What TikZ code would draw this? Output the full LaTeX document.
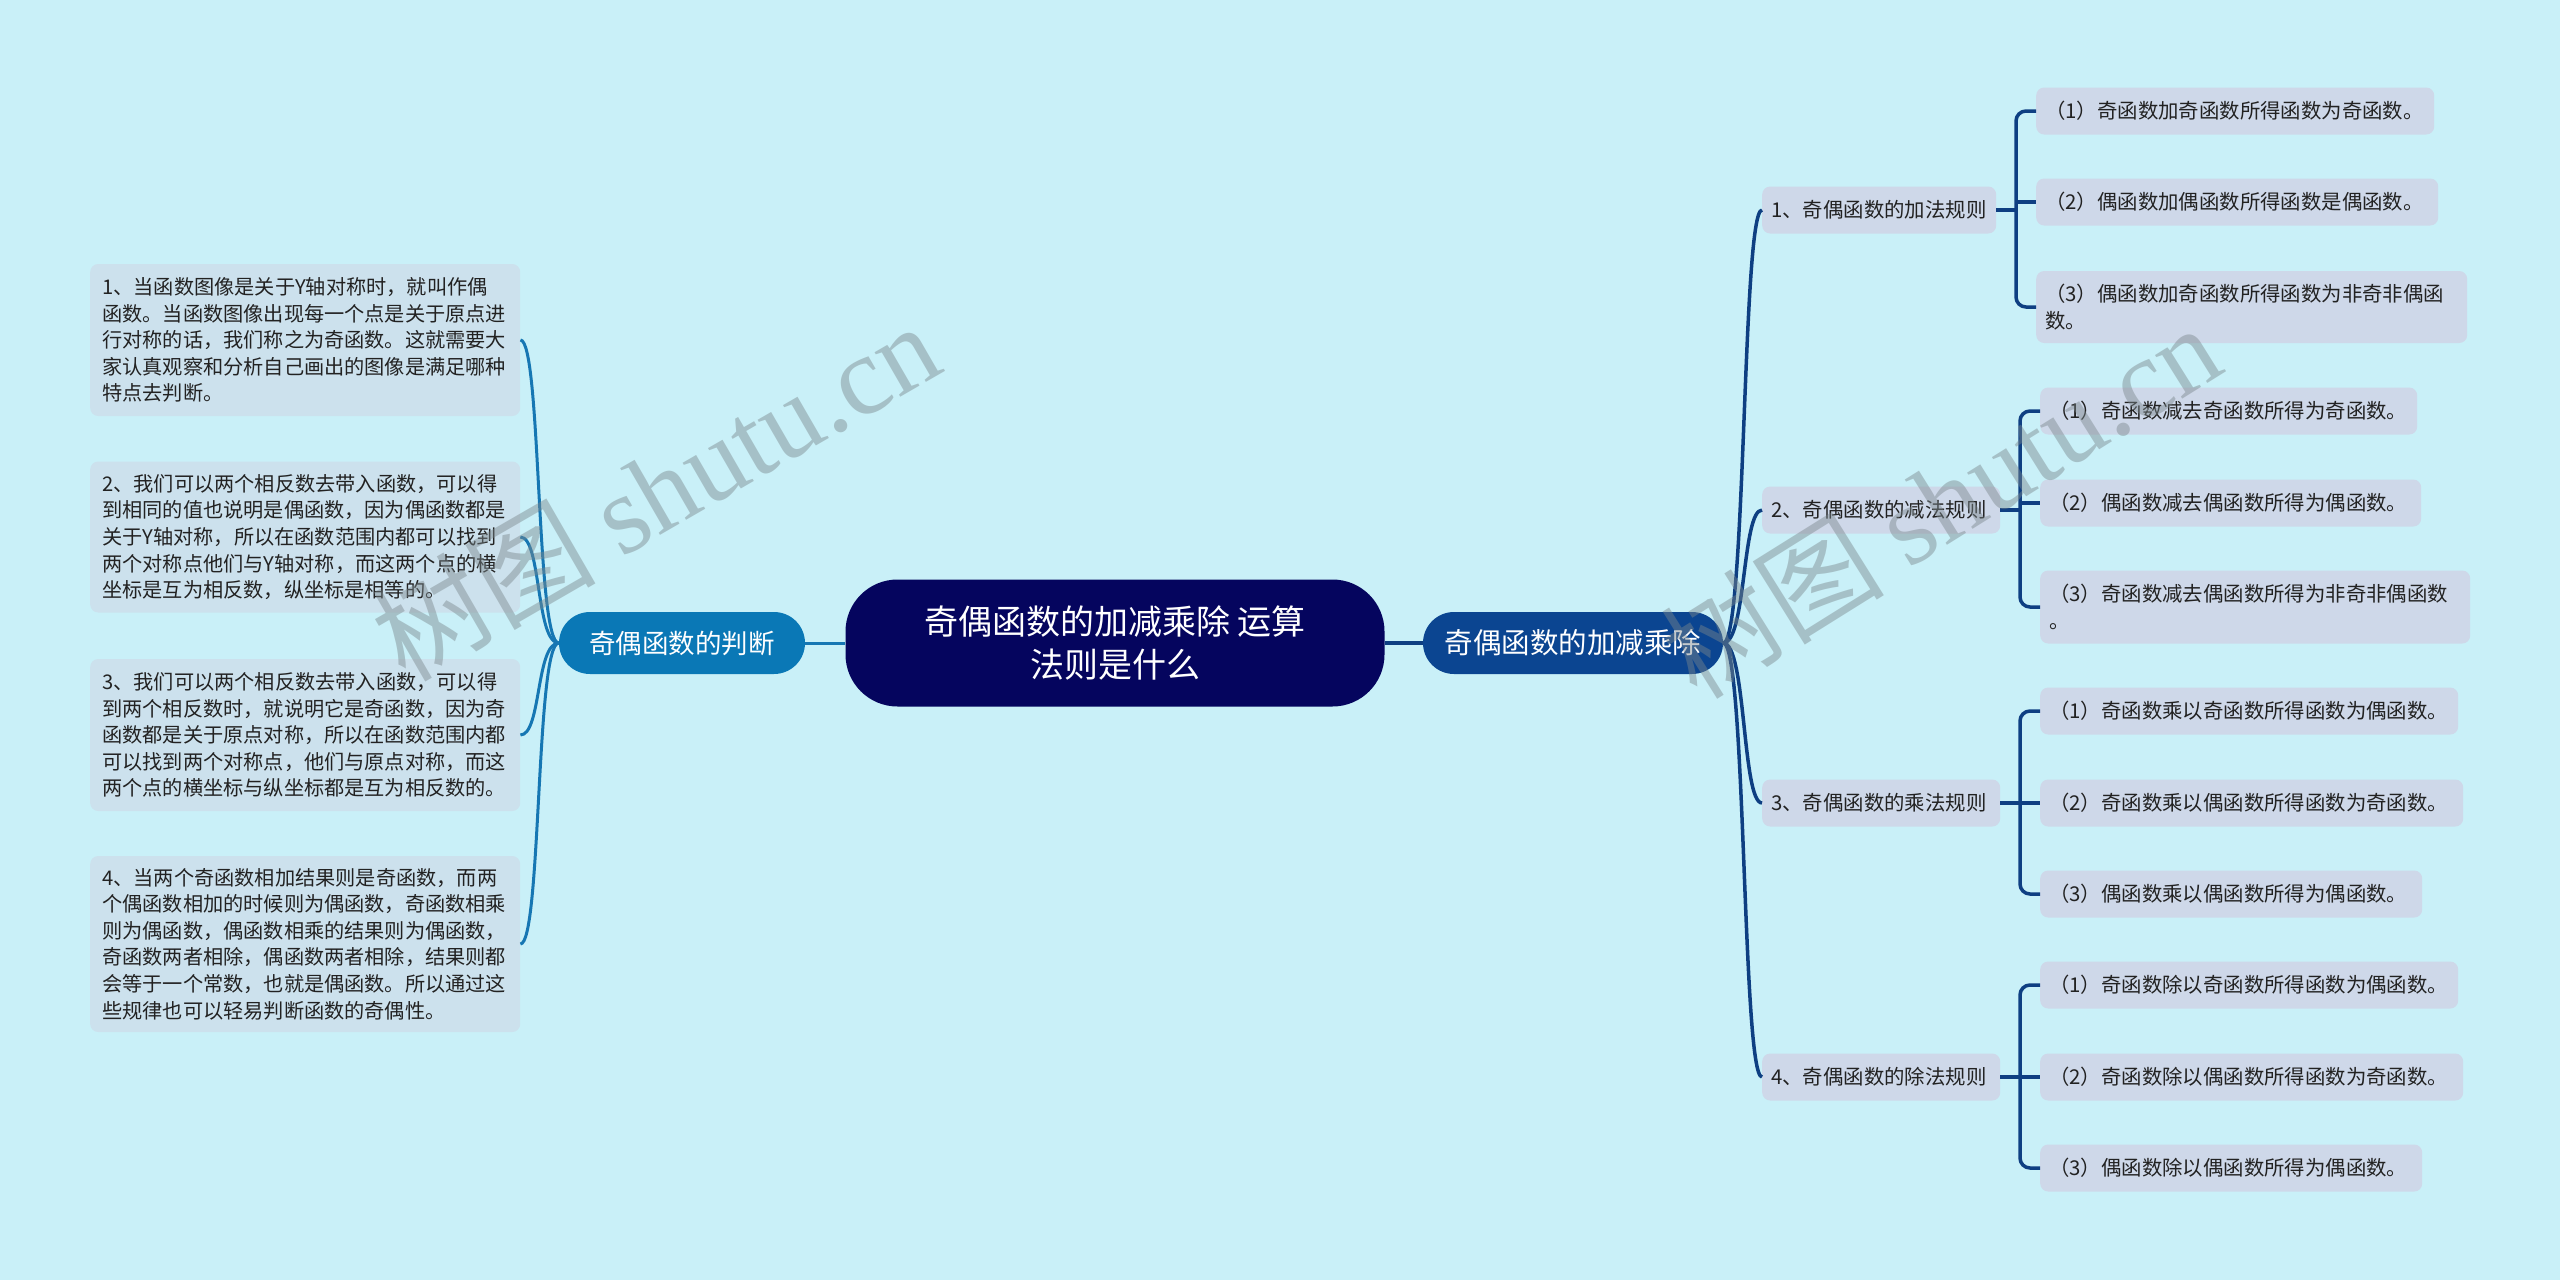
\documentclass[tikz,border=0pt]{standalone}
\usepackage{fontspec}
\setmainfont{Noto Sans CJK SC}
\newfontfamily\wmserif{Liberation Serif}
\definecolor{bgc}{HTML}{C9F0F8}
\definecolor{rootc}{HTML}{05055E}
\definecolor{lmainc}{HTML}{0A78B6}
\definecolor{rmainc}{HTML}{0B4591}
\definecolor{llinec}{HTML}{1677B3}
\definecolor{rlinec}{HTML}{0E3F82}
\definecolor{leafL}{HTML}{CCE1ED}
\definecolor{leafR}{HTML}{CED8E9}
\definecolor{txtc}{HTML}{222222}
\definecolor{wmc}{HTML}{7A878C}
\begin{document}
\begin{tikzpicture}[x=1pt,y=-1pt]
\tikzset{
  lleaf/.style={fill=leafL, rounded corners=8pt, inner xsep=12pt, inner ysep=0pt, text width=406pt, align=left, anchor=west, font=\fontsize{20.2}{26.6}\selectfont, text=txtc},
  rleaf/.style={fill=leafR, rounded corners=8pt, inner xsep=9pt, inner ysep=0pt, align=left, anchor=west, font=\fontsize{20.4}{27.5}\selectfont, text=txtc, minimum height=47pt},
  mainbox/.style={rounded corners=31pt, inner sep=0pt, minimum height=62pt, text=white},
  lconn/.style={draw=llinec, line width=3pt},
  rconn/.style={draw=rlinec, line width=3.5pt},
  wmark/.style={text=wmc, opacity=0.45, font=\fontsize{112}{112}\selectfont, inner sep=0pt},
}
\useasboundingbox (0,0) rectangle (2560,1280);
\fill[bgc] (0,0) rectangle (2560,1280);

% root and main nodes
\node[fill=rootc, text=white, rounded corners=52pt, inner sep=0pt, minimum width=539pt, minimum height=127pt, align=center, font=\fontsize{34}{43}\selectfont] (root) at (1115,643) {奇偶函数的加减乘除 运算\\法则是什么};
\node[mainbox, fill=lmainc, minimum width=246pt, font=\fontsize{26.5}{30}\selectfont] (lm) at (682,643) {奇偶函数的判断};
\node[mainbox, fill=rmainc, minimum width=300pt, font=\fontsize{28.5}{30}\selectfont] (rm) at (1573,643) {奇偶函数的加减乘除};

\draw[lconn] (root.west) -- (lm.east);
\draw[rconn] (root.east) -- (rm.west);

% left leaves
\node[lleaf, minimum height=152pt] (L1) at (90,340) {1、当函数图像是关于Y轴对称时，就叫作偶\\函数。当函数图像出现每一个点是关于原点进\\行对称的话，我们称之为奇函数。这就需要大\\家认真观察和分析自己画出的图像是满足哪种\\特点去判断。};
\node[lleaf, minimum height=151pt] (L2) at (90,537) {2、我们可以两个相反数去带入函数，可以得\\到相同的值也说明是偶函数，因为偶函数都是\\关于Y轴对称，所以在函数范围内都可以找到\\两个对称点他们与Y轴对称，而这两个点的横\\坐标是互为相反数，纵坐标是相等的。};
\node[lleaf, minimum height=152pt] (L3) at (90,735) {3、我们可以两个相反数去带入函数，可以得\\到两个相反数时，就说明它是奇函数，因为奇\\函数都是关于原点对称，所以在函数范围内都\\可以找到两个对称点，他们与原点对称，而这\\两个点的横坐标与纵坐标都是互为相反数的。};
\node[lleaf, minimum height=176pt] (L4) at (90,944) {4、当两个奇函数相加结果则是奇函数，而两\\个偶函数相加的时候则为偶函数，奇函数相乘\\则为偶函数，偶函数相乘的结果则为偶函数，\\奇函数两者相除，偶函数两者相除，结果则都\\会等于一个常数，也就是偶函数。所以通过这\\些规律也可以轻易判断函数的奇偶性。};

\foreach \n in {L1,L2,L3,L4}{
  \draw[lconn] (lm.west) .. controls +(-23,0) and +(21,0) .. (\n.east);
}

% right sub nodes
\node[rleaf, text width=216pt] (R1) at (1762,210) {1、奇偶函数的加法规则};
\node[rleaf, text width=220pt] (R2) at (1762,510) {2、奇偶函数的减法规则};
\node[rleaf, text width=220pt] (R3) at (1762,803) {3、奇偶函数的乘法规则};
\node[rleaf, text width=220pt] (R4) at (1762,1077) {4、奇偶函数的除法规则};

\foreach \n in {R1,R2,R3,R4}{
  \draw[rconn] (rm.east) .. controls +(23,0) and +(-20,0) .. (\n.west);
}

% right leaves
\node[rleaf, text width=380pt] (A1) at (2036,111) {（1）奇函数加奇函数所得函数为奇函数。};
\node[rleaf, text width=384pt] (A2) at (2036,202) {（2）偶函数加偶函数所得函数是偶函数。};
\node[rleaf, text width=413pt, minimum height=72pt] (A3) at (2036,307) {（3）偶函数加奇函数所得函数为非奇非偶函\\数。};

\node[rleaf, text width=359pt] (B1) at (2040,411) {（1）奇函数减去奇函数所得为奇函数。};
\node[rleaf, text width=363pt] (B2) at (2040,503) {（2）偶函数减去偶函数所得为偶函数。};
\node[rleaf, text width=412pt, minimum height=73pt] (B3) at (2040,607) {（3）奇函数减去偶函数所得为非奇非偶函数\\。};

\node[rleaf, text width=400pt] (C1) at (2040,711) {（1）奇函数乘以奇函数所得函数为偶函数。};
\node[rleaf, text width=405pt] (C2) at (2040,803) {（2）奇函数乘以偶函数所得函数为奇函数。};
\node[rleaf, text width=364pt] (C3) at (2040,894) {（3）偶函数乘以偶函数所得为偶函数。};

\node[rleaf, text width=400pt] (D1) at (2040,985) {（1）奇函数除以奇函数所得函数为偶函数。};
\node[rleaf, text width=405pt] (D2) at (2040,1077) {（2）奇函数除以偶函数所得函数为奇函数。};
\node[rleaf, text width=364pt] (D3) at (2040,1168) {（3）偶函数除以偶函数所得为偶函数。};

% brackets
\coordinate (bxA) at (2016,0);
\coordinate (bxB) at (2020,0);
\draw[rconn] (R1.east) -- (bxA |- R1.east);
\draw[rconn, rounded corners=10pt] (A1.west) -- (bxA |- A1.west) -- (bxA |- A3.west) -- (A3.west);
\draw[rconn] (bxA |- A2.west) -- (A2.west);

\draw[rconn] (R2.east) -- (bxB |- R2.east);
\draw[rconn, rounded corners=10pt] (B1.west) -- (bxB |- B1.west) -- (bxB |- B3.west) -- (B3.west);
\draw[rconn] (bxB |- B2.west) -- (B2.west);

\draw[rconn] (R3.east) -- (bxB |- R3.east);
\draw[rconn, rounded corners=10pt] (C1.west) -- (bxB |- C1.west) -- (bxB |- C3.west) -- (C3.west);
\draw[rconn] (bxB |- C2.west) -- (C2.west);

\draw[rconn] (R4.east) -- (bxB |- R4.east);
\draw[rconn, rounded corners=10pt] (D1.west) -- (bxB |- D1.west) -- (bxB |- D3.west) -- (D3.west);
\draw[rconn] (bxB |- D2.west) -- (D2.west);

% watermarks
\node[wmark, rotate=30] (wm1) at (655,490) {树图 {\wmserif shutu.cn}};
\node[wmark, rotate=32] (wm2) at (1940,500) {树图 {\wmserif shutu.cn}};
\end{tikzpicture}
\end{document}
